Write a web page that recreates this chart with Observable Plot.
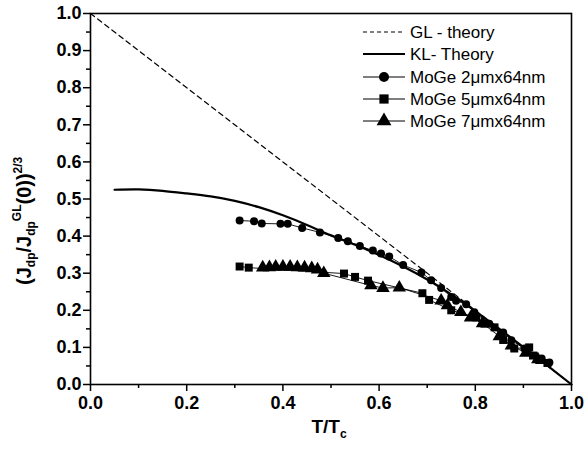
<!DOCTYPE html>
<html><head><meta charset="utf-8">
<script src="https://cdn.jsdelivr.net/npm/d3@7"></script>
<script src="https://cdn.jsdelivr.net/npm/@observablehq/plot@0.6"></script>
<style>body{margin:0;background:#fff}</style>
</head><body><div id="chart"></div><script>
// GL theory (straight line) and KL theory curve
const glT = [0, 1];
const glY = [1, 0];
const klT = [0.05, 0.10, 0.15, 0.20, 0.25, 0.30, 0.35, 0.40, 0.45, 0.50, 0.55, 0.60, 0.65, 0.70, 0.75, 0.80, 0.85, 0.90, 0.95, 1.00];
const klY = [0.525, 0.526, 0.522, 0.515, 0.507, 0.495, 0.478, 0.456, 0.430, 0.402, 0.377, 0.349, 0.318, 0.283, 0.243, 0.198, 0.150, 0.101, 0.051, 0.000];
// MoGe 2um x 64nm (circles)
const s2T = [0.310, 0.340, 0.356, 0.395, 0.410, 0.440, 0.477, 0.515, 0.535, 0.560, 0.587, 0.604, 0.621, 0.650, 0.688, 0.708, 0.729, 0.750, 0.760, 0.781, 0.798, 0.829, 0.858, 0.875, 0.902, 0.938, 0.954];
const s2Y = [0.442, 0.440, 0.434, 0.433, 0.433, 0.422, 0.410, 0.395, 0.386, 0.373, 0.361, 0.353, 0.345, 0.322, 0.302, 0.281, 0.260, 0.236, 0.226, 0.216, 0.195, 0.164, 0.140, 0.119, 0.097, 0.070, 0.059];
// MoGe 5um x 64nm (squares)
const s5T = [0.310, 0.329, 0.527, 0.550, 0.577, 0.690, 0.704, 0.750, 0.802, 0.819, 0.840, 0.858, 0.881, 0.912, 0.920, 0.933, 0.950];
const s5Y = [0.318, 0.315, 0.299, 0.290, 0.280, 0.246, 0.228, 0.200, 0.181, 0.164, 0.154, 0.120, 0.097, 0.100, 0.078, 0.066, 0.058];
// MoGe 7um x 64nm (triangles)
const s7T = [0.358, 0.372, 0.385, 0.400, 0.415, 0.430, 0.445, 0.460, 0.472, 0.485, 0.583, 0.608, 0.642, 0.729, 0.742, 0.770, 0.790, 0.815, 0.850, 0.875, 0.905, 0.930];
const s7Y = [0.315, 0.316, 0.317, 0.317, 0.317, 0.316, 0.315, 0.313, 0.310, 0.300, 0.267, 0.260, 0.261, 0.226, 0.213, 0.195, 0.180, 0.165, 0.130, 0.105, 0.085, 0.068];
// ticks
const xTicks = [0, 0.2, 0.4, 0.6, 0.8, 1.0];
const xMinor = [0.1, 0.3, 0.5, 0.7, 0.9];
const yTicks = [0, 0.1, 0.2, 0.3, 0.4, 0.5, 0.6, 0.7, 0.8, 0.9, 1.0];
const yMinor = [0.05, 0.15, 0.25, 0.35, 0.45, 0.55, 0.65, 0.75, 0.85, 0.95];
// legend
const legendNames = ["GL - theory", "KL- Theory", "MoGe 2\u03bcmx64nm", "MoGe 5\u03bcmx64nm", "MoGe 7\u03bcmx64nm"];

const mk = (xs, ys) => xs.map((x, i) => ({x, y: ys[i]}));
const gl = mk(glT, glY), kl = mk(klT, klY);
const d2 = mk(s2T, s2Y), d5 = mk(s5T, s5Y), d7 = mk(s7T, s7Y);

const fmt = d3.format(".1f");
const svg = Plot.plot({
  width: 587, height: 455,
  marginLeft: 90, marginRight: 16, marginTop: 13, marginBottom: 71,
  style: {fontFamily: "'Liberation Sans', Arial, sans-serif", fontSize: "18px", fontWeight: "bold", color: "#000", background: "#fff"},
  x: {domain: [0, 1]},
  y: {domain: [0, 1]},
  marks: [
    Plot.axisX({ticks: xTicks, tickSize: 7, tickPadding: 5, tickFormat: fmt, label: null, strokeWidth: 1.5}),
    Plot.axisX({ticks: xMinor, tickSize: 4, tickFormat: () => "", label: null, strokeWidth: 1.5}),
    Plot.axisY({ticks: yTicks, tickSize: 7, tickPadding: 2, tickFormat: fmt, label: null, strokeWidth: 1.5}),
    Plot.axisY({ticks: yMinor, tickSize: 4, tickFormat: () => "", label: null, strokeWidth: 1.5}),
    Plot.line(gl, {x: "x", y: "y", stroke: "black", strokeWidth: 1.2, strokeDasharray: "5,4"}),
    Plot.line(kl, {x: "x", y: "y", stroke: "black", strokeWidth: 2.2, curve: "natural"}),
    Plot.line(d2, {x: "x", y: "y", stroke: "black", strokeWidth: 0.9}),
    Plot.line(d5, {x: "x", y: "y", stroke: "black", strokeWidth: 0.9}),
    Plot.line(d7, {x: "x", y: "y", stroke: "black", strokeWidth: 0.9}),
    Plot.dot(d2, {x: "x", y: "y", symbol: "circle", r: 4, fill: "black"}),
    Plot.dot(d5, {x: "x", y: "y", symbol: "square", r: 4.5, fill: "black"}),
    Plot.dot(d7, {x: "x", y: "y", symbol: "triangle", r: 5, fill: "black"}),
    Plot.frame({stroke: "black", strokeWidth: 1.6})
  ]
});
document.getElementById("chart").append(svg);

const s = d3.select(svg);
// x axis title
const xt = s.append("text").attr("x", 329).attr("y", 433).attr("text-anchor", "middle")
  .attr("font-size", 19).attr("font-weight", "bold").attr("fill", "black");
xt.append("tspan").text("T/T");
xt.append("tspan").attr("font-size", 12).attr("dy", 5).text("c");

// y axis title
const yt = s.append("text").attr("transform", "translate(31,285) rotate(-90)").attr("text-anchor", "start")
  .attr("font-size", 20).attr("font-weight", "bold").attr("fill", "black");
yt.append("tspan").text("(J");
yt.append("tspan").attr("font-size", 12).attr("dy", 4).text("dp");
yt.append("tspan").attr("dy", -4).text("/J");
yt.append("tspan").attr("font-size", 12).attr("dy", 4).text("dp");
yt.append("tspan").attr("font-size", 12).attr("dy", -14).text("GL");
yt.append("tspan").attr("dy", 10).text("(0))");
yt.append("tspan").attr("font-size", 12).attr("dy", -9).text("2/3");

// legend
const rowsY = [32, 54, 77, 99, 121];
const lg = s.append("g").attr("text-anchor", "start");
const symbols = [null, null, d3.symbolCircle, d3.symbolSquare, d3.symbolTriangle];
const symSizes = [0, 0, 78, 85, 95];
legendNames.forEach((name, i) => {
  const y = rowsY[i];
  const line = lg.append("line").attr("x1", 363).attr("x2", 405).attr("y1", y).attr("y2", y).attr("stroke", "black");
  if (i === 0) line.attr("stroke-dasharray", "4,3").attr("stroke-width", 1.2);
  else if (i === 1) line.attr("stroke-width", 2.2);
  else line.attr("stroke-width", 1.2);
  if (symbols[i]) {
    lg.append("path").attr("d", d3.symbol(symbols[i], symSizes[i])()).attr("transform", `translate(384,${y})`).attr("fill", "black");
  }
  lg.append("text").attr("x", 410).attr("y", y + 6).attr("text-anchor", "start").attr("font-size", 17).attr("font-weight", "normal")
    .attr("fill", "black").text(name);
});
</script></body></html>
